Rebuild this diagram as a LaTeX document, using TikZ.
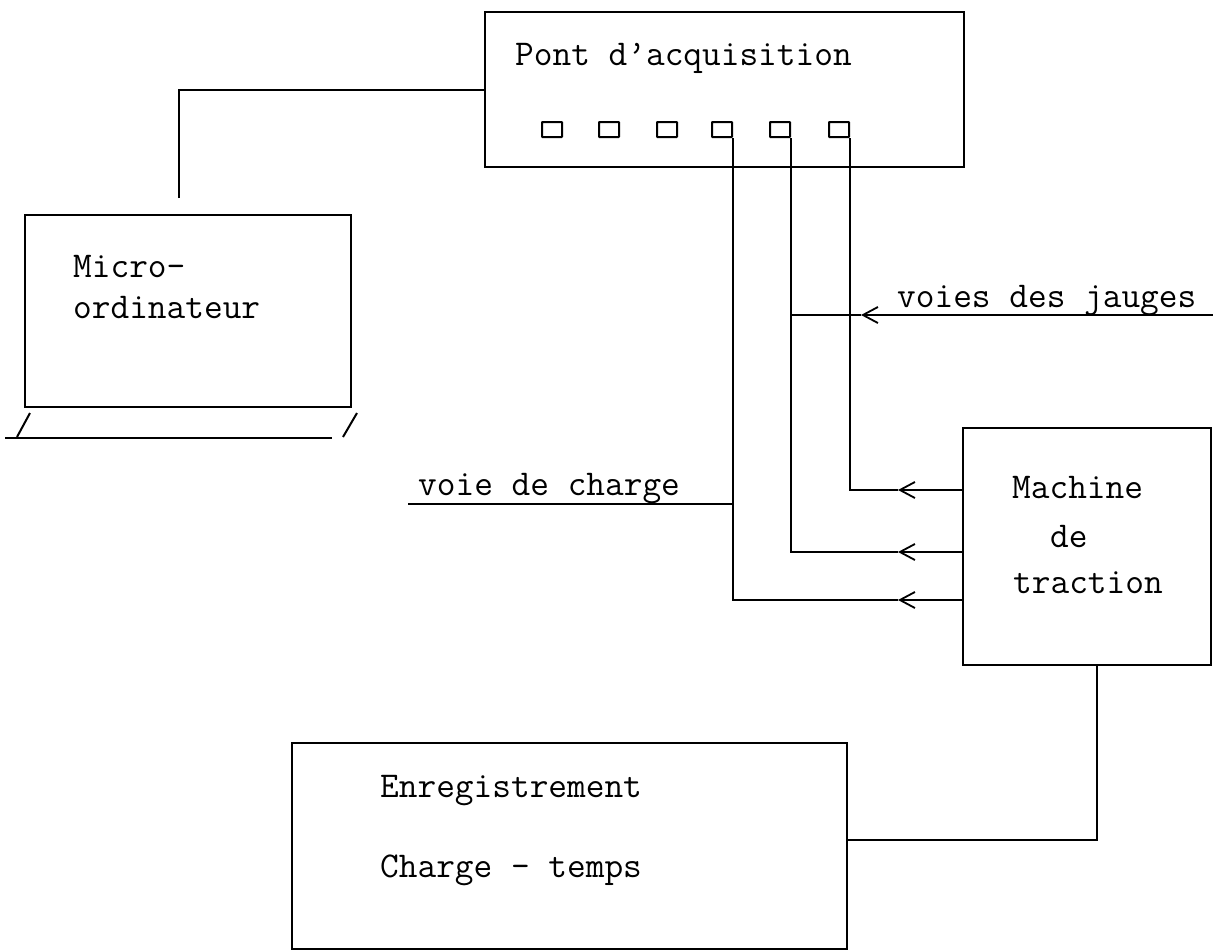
\documentclass[tikz,border=0pt]{standalone}
\usepackage{fontspec}
\usetikzlibrary{arrows.meta,calc}
\begin{document}
\begin{tikzpicture}[x=1pt,y=-1pt,
  box/.style={draw,line width=2pt,inner sep=0pt},
  port/.style={draw,line width=2pt,inner sep=0pt,minimum width=20pt,minimum height=15pt,rounded corners=0.5pt},
  conn/.style={line width=2pt},
  barb/.style={{Straight Barb[length=15pt,width=16pt,line width=1.8pt]}-},
  lbl/.style={anchor=base west,inner sep=0pt,font=\ttfamily\fontsize{36.3}{40}\selectfont}]
\useasboundingbox (0,0) rectangle (1221,951);
% boxes
\node[box,minimum width=479pt,minimum height=155pt] (pont) at (724.5,89.5) {};
\node[box,minimum width=326pt,minimum height=192pt] (micro) at (188,311) {};
\node[box,minimum width=248pt,minimum height=237pt] (mach) at (1087,546.5) {};
\node[box,minimum width=555pt,minimum height=206pt] (enreg) at (569.5,846) {};
% ports
\foreach \i/\x in {1/552,2/609,3/667,4/722,5/780,6/839}
  \node[port] (sq\i) at (\x,129.5) {};
% laptop base
\draw[conn] (5,438) -- (332,438);
\draw[conn] (30,413) -- (17,437);
\draw[conn] (357,413) -- (343,437);
% texts
\node[lbl] (tpont) at (515,65) {Pont d’acquisition};
\node[lbl] (tmic1) at (73,277) {Micro-};
\node[lbl] (tmic2) at (73,318) {ordinateur};
\node[lbl] (tjau) at (897,307) {voies des jauges};
\node[lbl] (tcha) at (418,495) {voie de charge};
\node[lbl] (tma1) at (1012,498) {Machine};
\node[lbl] (tma2) at (1050,547) {de};
\node[lbl] (tma3) at (1013,593) {traction};
\node[lbl] (ten1) at (380,797) {Enregistrement};
\node[lbl] (ten2) at (380,877) {Charge - temps};
% coordinates
\coordinate (mtop) at (179,198);
\coordinate (tip1) at (898,490);
\coordinate (tip2) at (898,552);
\coordinate (tip3) at (898,600);
\coordinate (tipJ) at (861,315);
\coordinate (endJ) at (1213,315);
\coordinate (endC) at (408,504);
% connectors
\draw[conn] (mtop) |- (pont.west);
\draw[conn] (sq6.south east) |- (tip1);
\draw[conn] (sq5.south east) |- (tip2);
\draw[conn] (sq4.south east) |- (tip3);
\draw[conn,barb] (tip1) -- (mach.west |- tip1);
\draw[conn,barb] (tip2) -- (mach.west |- tip2);
\draw[conn,barb] (tip3) -- (mach.west |- tip3);
\draw[conn] (sq5.south east |- tipJ) -- (tipJ);
\draw[conn,barb] (tipJ) -- (endJ);
\draw[conn] (endC) -- (sq4.south east |- endC);
\draw[conn] ([xshift=10pt]mach.south) |- ([yshift=6pt]enreg.east);
\end{tikzpicture}
\end{document}
